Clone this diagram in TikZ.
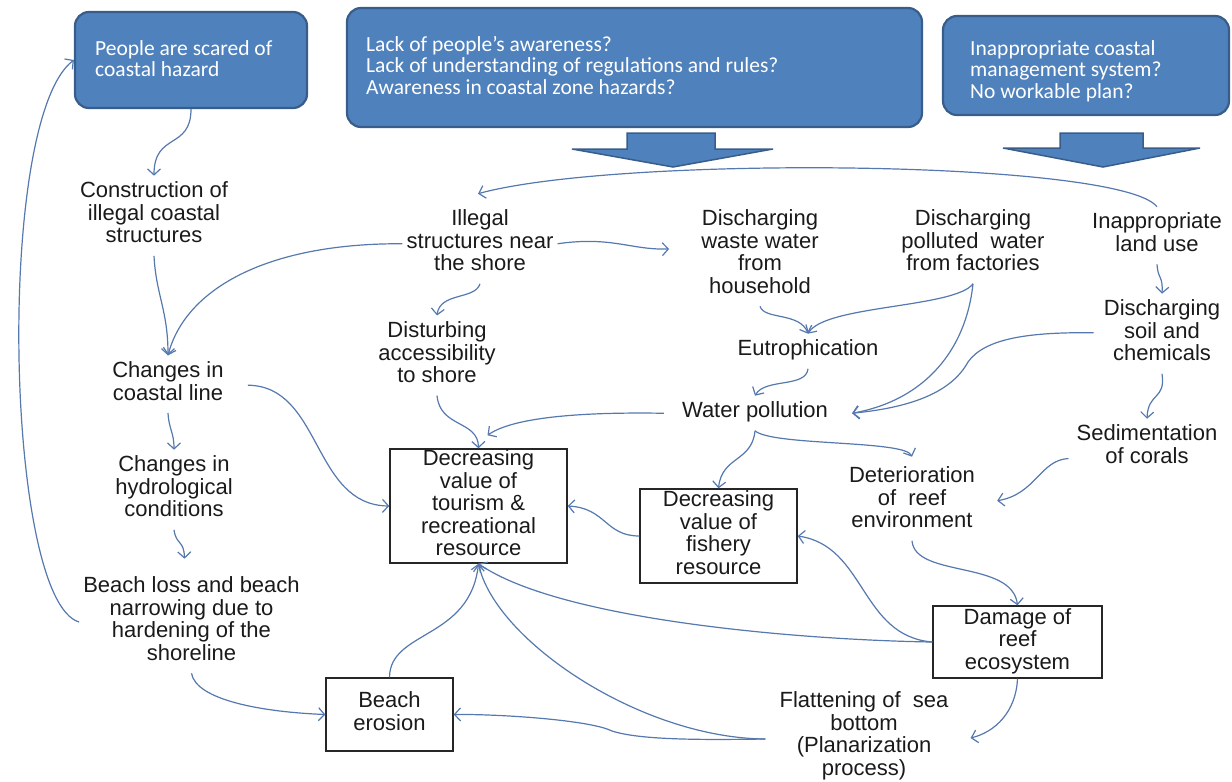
\documentclass[tikz,border=0pt]{standalone}
\usepackage{fontspec}
\setmainfont{Liberation Sans}
\newfontfamily\boxfnt{Carlito}
\usetikzlibrary{arrows.meta,calc}
\definecolor{bfill}{RGB}{79,129,189}
\definecolor{bdraw}{RGB}{56,93,138}
\definecolor{lnk}{RGB}{85,120,175}
\definecolor{txtc}{RGB}{26,26,26}
\begin{document}
\begin{tikzpicture}[x=1pt,y=-1pt,
  txt/.style={font=\fontsize{22}{22.5}\selectfont, text=txtc, align=center,
    inner xsep=4pt, inner ysep=6pt,
    execute at begin node=\strut, execute at end node=\strut},
  bx/.style={txt, draw=black!85, line width=1.4pt, inner sep=0pt},
  bluebox/.style={draw=bdraw, fill=bfill, line width=2.2pt, rounded corners=14pt, inner sep=0pt},
  btxt/.style={font=\boxfnt\fontsize{21.5}{21.5}\selectfont, text=white, align=left,
    anchor=north west, inner sep=0pt, execute at begin node=\strut},
  blockarrow/.style={draw=bdraw, fill=bfill, line width=1.5pt, line join=miter},
  arr/.style={draw=lnk, line width=1.2pt, -{Straight Barb[length=6pt,width=13pt]}}
]
\useasboundingbox (0,0) rectangle (1232,782);

% blue problem boxes
\node[bluebox, minimum width=232pt, minimum height=96pt] (b1) at (191,60) {};
\node[btxt] (t1) at (95,40) {People are scared of\\coastal hazard};
\node[bluebox, minimum width=575pt, minimum height=119pt] (b2) at (634.5,67.5) {};
\node[btxt] (t2) at (366,36) {Lack of people’s awareness?\\Lack of understanding of regulations and rules?\\Awareness in coastal zone hazards?};
\node[bluebox, minimum width=286pt, minimum height=99pt] (b3) at (1086,65.5) {};
\node[btxt] (t3) at (970,40) {Inappropriate coastal\\management system?\\No workable  plan?};

% block arrows
\path[blockarrow] (627,133) -- (715,133) -- (715,149) -- (773,149) -- (673,167) -- (572,149) -- (627,149) -- cycle;
\path[blockarrow] (1060,133) -- (1143,133) -- (1143,148) -- (1200,148) -- (1103,167) -- (1003,148) -- (1060,148) -- cycle;

% text nodes
\node[txt] (cons) at (154,215.75) {Construction of\\illegal coastal\\structures};
\node[txt] (ill) at (480,243.75) {Illegal\\structures near\\the shore};
\node[txt] (waste) at (760,255) {Discharging\\waste water\\from\\household};
\node[txt] (fact) at (973,243.75) {Discharging\\polluted\ \ water\\from factories};
\node[txt] (land) at (1157,235.5) {Inappropriate\\land use};
\node[txt] (soil) at (1162,333.75) {Discharging\\soil and\\chemicals};
\node[txt] (dist) at (437,355.5) {Disturbing\\accessibility\\to shore};
\node[txt] (eut) at (808,351.25) {Eutrophication};
\node[txt] (coast) at (168,384.2) {Changes in\\coastal line};
\node[txt] (water) at (755,413.25) {Water pollution};
\node[txt] (sedi) at (1147,447.5) {Sedimentation\\of corals};
\node[txt] (hydro) at (174,489.75) {Changes in\\hydrological\\conditions};
\node[txt] (deter) at (912,500.75) {Deterioration\\of\ \ reef\\environment};
\node[txt] (bloss) at (191.5,622) {Beach loss and beach\\narrowing due to\\hardening of the\\shoreline};
\node[txt] (flat) at (864,737) {Flattening of\ \ sea\\bottom\\(Planarization\\process)};

% boxed nodes
\node[bx, minimum width=177pt, minimum height=114pt] (tour) at (478.5,506) {Decreasing\\value of\\tourism \&\\recreational\\resource};
\node[bx, minimum width=157pt, minimum height=94pt] (fish) at (718.5,536) {Decreasing\\value of\\fishery\\resource};
\node[bx, minimum width=169pt, minimum height=72pt] (dam) at (1017.5,642) {Damage of\\reef\\ecosystem};
\node[bx, minimum width=127pt, minimum height=73pt] (ero) at (389.5,714.5) {Beach\\erosion};

% connectors
\draw[arr] (b1.south) .. controls (191,150) and (154,132) .. (cons.north);
\draw[arr] (bloss.west) .. controls (5,600) and (-5,120) .. (b1.west);
\draw[arr] (cons.south) .. controls (156,295) and (168,310) .. (coast.north);
\draw[arr] (ill.west) .. controls (265,243) and (185,290) .. (coast.north);
\draw[arr] (ill.east) .. controls (612,236) and (630,250) .. ($(waste.west)+(-28,-6)$);
\draw[arr] (land.north) .. controls (1120,160) and (620,155) .. ($(ill.north)+(-2,-10)$);
\draw[arr] (ill.south) .. controls (475,300) and (440,292) .. (dist.north);
\draw[arr] (waste.south) .. controls (764,320) and (800,312) .. (eut.north);
\draw[arr] (fact.south) .. controls (955,308) and (825,305) .. (eut.north);
\draw[arr] (fact.south) .. controls (966,350) and (925,400) .. ($(water.east)+(20,0)$);
\draw[arr] ($(soil.west)+(-6,-1)$) .. controls (1030,332) and (985,338) .. (968,362) .. controls (950,395) and (905,408) .. ($(water.east)+(20,0)$);
\draw[arr] (land.south) .. controls (1158,280) and (1163,275) .. (soil.north);
\draw[arr] (eut.south) .. controls (806,388) and (765,378) .. (water.north);
\draw[arr] (soil.south) .. controls (1166,400) and (1148,392) .. (sedi.north);
\draw[arr] (dist.south) .. controls (440,428) and (478,420) .. (tour.north);
\draw[arr] ($(water.west)+(-14,0)$) .. controls (590,412) and (515,416) .. ($(tour.north)+(9,-13)$);
\draw[arr] ($(coast.east)+(20,1)$) .. controls (322,386) and (312,505) .. (tour.west);
\draw[arr] (coast.south) .. controls (169,430) and (174,432) .. (hydro.north);
\draw[arr] (hydro.south) .. controls (176,545) and (184,540) .. ($(bloss.north)+(-7,-12)$);
\draw[arr] (water.south) .. controls (752,462) and (722,456) .. (fish.north);
\draw[arr] (water.south) .. controls (772,446) and (905,440) .. ($(deter.north)+(0,-4)$);
\draw[arr] ($(sedi.west)+(-4,11)$) .. controls (1040,460) and (1036,494) .. ($(deter.east)+(18,0)$);
\draw[arr] (fish.west) .. controls (605,536) and (606,508) .. (tour.east);
\draw[arr] (deter.south) .. controls (915,578) and (1012,560) .. (dam.north);
\draw[arr] (dam.west) .. controls (860,636) and (866,546) .. (fish.east);
\draw[arr] (dam.west) .. controls (800,640) and (560,620) .. (tour.south);
\draw[arr] (dam.south) .. controls (1016,712) and (995,732) .. ($(flat.east)+(18,1)$);
\draw[arr] ($(flat.west)+(-10,2)$) .. controls (640,738) and (495,640) .. (tour.south);
\draw[arr] ($(flat.west)+(-10,2)$) .. controls (700,740) and (640,740) .. (612,731) .. controls (590,720) and (500,714) .. (ero.east);
\draw[arr] (ero.north) .. controls (390,630) and (470,640) .. (tour.south);
\draw[arr] (bloss.south) .. controls (196,700) and (262,712) .. (ero.west);
\end{tikzpicture}
\end{document}
